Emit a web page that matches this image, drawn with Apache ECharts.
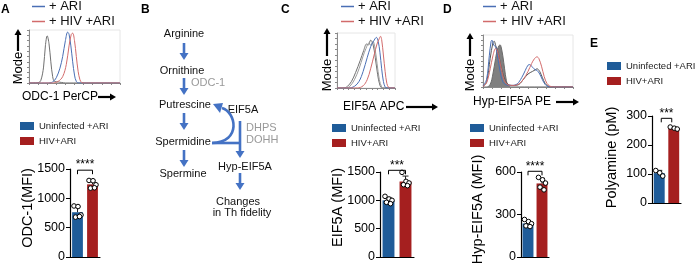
<!DOCTYPE html>
<html><head><meta charset="utf-8">
<script src="https://cdn.jsdelivr.net/npm/echarts@6/dist/echarts.min.js"></script>
<style>html,body{margin:0;padding:0;background:#fff}#c{width:695px;height:263px}</style>
</head><body><div id="c"></div><script>
// ---------------- DATA ----------------
const barCategories = ['Uninfected +ARI', 'HIV+ARI'];
const histNames = ['+ ARI', '+ HIV +ARI'];

const odcUninfected = [870, 860, 716, 680, 690];
const odcHiv = [1305, 1300, 1231, 1174, 1180];
const eif5aUninfected = [1071, 1024, 1000, 965, 941];
const eif5aHiv = [1494, 1335, 1306, 1276, 1259];
const hypUninfected = [265, 250, 235, 220, 215];
const hypHiv = [562, 545, 522, 493, 474];
const polyUninfected = [112, 104, 93];
const polyHiv = [262, 258, 255];

const odcTicks = [0, 500, 1000, 1500];
const eif5aTicks = [0, 500, 1000, 1500];
const hypTicks = [0, 300, 600];
const polyTicks = [0, 100, 200, 300];

// histogram traces, [fluorescence (relative), mode %]
const odcHistCtrl = [[0,0],[10,0.5],[13,5],[16,30],[18,70],[20,89],[22,74],[24,40],[26,12],[28,3],[32,2],[36,1],[40,0],[100,0]];
const odcHistAri = [[0,0],[20,0],[26,2],[30,10],[34,28],[37,50],[40,80],[42.5,96],[44,92],[46,70],[48,40],[50,15],[52,3],[55,0],[100,0]];
const odcHistHiv = [[0,0],[26,0],[32,3],[37,12],[41,35],[44,70],[46.5,92],[48,94],[50,80],[52,50],[54,22],[56,6],[58,1],[62,0],[100,0]];

const eifHistCtrl1 = [[0,0],[12,0],[18,3],[25,12],[32,28],[40,50],[46,68],[51,80],[54,78],[58,87],[62,80],[66,55],[70,25],[74,5],[78,0],[100,0]];
const eifHistCtrl2 = [[0,0],[15,0],[22,3],[30,15],[38,35],[45,58],[50,72],[55,82],[58,78],[62,85],[65,75],[69,45],[73,15],[77,2],[80,0],[100,0]];
const eifHistAri = [[0,0],[20,0],[30,3],[38,12],[45,30],[52,55],[58,75],[63,85],[68,92],[71,85],[74,65],[77,35],[80,12],[83,2],[86,0],[100,0]];
const eifHistHiv = [[0,0],[35,0],[45,4],[52,15],[58,35],[64,60],[69,80],[73,90],[75,94],[77,88],[80,60],[83,30],[86,8],[89,1],[92,0],[100,0]];

const hypHistIso = [[0,0],[4,0],[8,5],[11,25],[14,55],[16,72],[18,80],[19,81],[20,78],[22,60],[24,35],[26,12],[28,3],[31,0],[100,0]];
const hypHistCtrl = [[0,1],[4,10],[8,55],[11,85],[12.5,88],[14,80],[17,65],[20,40],[24,15],[28,5],[34,3],[40,5],[45,15],[50,25],[55,30],[58,33],[60,35],[63,30],[66,18],[69,7],[72,2],[76,0],[100,0]];
const hypHistAri = [[0,2],[4,15],[7,60],[9,88],[10,90],[12,80],[14,78],[16,60],[19,30],[22,10],[26,4],[32,3],[38,6],[43,18],[47,32],[50,42],[52,43],[55,38],[58,33],[60,32],[63,25],[66,14],[69,5],[72,1],[76,0],[100,0]];
const hypHistHiv = [[0,1],[4,8],[8,35],[11,60],[14,74],[16,70],[18,55],[21,30],[24,12],[28,4],[34,3],[40,6],[45,15],[50,30],[54,45],[57,54],[60,58],[62,55],[65,40],[68,20],[71,7],[74,2],[78,0],[100,0]];

// ---------------- STYLE / LAYOUT ----------------
const FONT = '"Liberation Sans", Arial, sans-serif';
const BLUE = '#1f5c99', RED = '#a51f1f';
const H_BLUE = '#4a6fb5', H_RED = '#d26b6b', H_GRAY = '#707070', H_GRAY2 = '#9a9a9a';
const ARROW_BLUE = '#4472c4';
const JITTER = [-3.5, 0.5, 3.5, -2, 2];

const grids = [], xAxes = [], yAxes = [], series = [], legends = [], graphics = [], barPanels = [];
const mean = a => a.reduce((s, v) => s + v, 0) / a.length;
const sd = a => { const m = mean(a); return Math.sqrt(a.reduce((s, v) => s + (v - m) * (v - m), 0) / (a.length - 1)); };

function addHist(cfg) {
  const gi = grids.length;
  grids.push({left: cfg.left, top: cfg.top, width: cfg.width, height: cfg.height, show: true, borderColor: '#e6e6e6', borderWidth: 1, outerBoundsMode: 'none', containLabel: false});
  const ax = {axisLine: {show: true, lineStyle: {color: '#8a8a8a', width: 1}}, axisTick: {show: true, length: 2, lineStyle: {color: '#8a8a8a'}}, axisLabel: {show: false}, splitLine: {show: false}};
  xAxes.push(Object.assign({type: 'value', gridIndex: gi, min: 0, max: 100, interval: 10}, ax));
  yAxes.push(Object.assign({type: 'value', gridIndex: gi, min: 0, max: 100, interval: 10}, ax));
  cfg.curves.forEach(c => {
    series.push({type: 'line', name: c.name, xAxisIndex: gi, yAxisIndex: gi, data: c.data, smooth: 0.35,
      symbol: 'none', showSymbol: false, silent: true, z: c.z || 2,
      lineStyle: {color: c.color, width: 1}, itemStyle: {color: c.color},
      areaStyle: c.fill ? {color: c.fill, opacity: 1} : undefined});
  });
  legends.push({left: cfg.legLeft, top: cfg.legTop, orient: 'vertical', data: histNames, icon: 'rect', itemWidth: 13, itemHeight: 1.5, itemGap: 2, padding: 0,
    selectedMode: false, textStyle: {fontSize: 13, fontFamily: FONT, color: '#111', padding: [0, 0, 0, -1]}});
}

function addBar(cfg) {
  const gi = grids.length;
  cfg.gi = gi; barPanels.push(cfg);
  grids.push({left: cfg.left, top: cfg.top, width: cfg.width, height: cfg.height, outerBoundsMode: 'none', containLabel: false});
  xAxes.push({type: 'category', gridIndex: gi, data: barCategories,
    axisLine: {lineStyle: {color: '#000', width: 1.2}}, axisTick: {alignWithLabel: true, length: 4, lineStyle: {color: '#000'}}, axisLabel: {show: false}});
  yAxes.push({type: 'value', gridIndex: gi, min: cfg.ticks[0], max: cfg.ticks[cfg.ticks.length - 1], interval: cfg.ticks[1] - cfg.ticks[0],
    axisLine: {show: true, lineStyle: {color: '#000', width: 1.2}}, axisTick: {show: true, length: 4, lineStyle: {color: '#000'}},
    axisLabel: {show: false}, splitLine: {show: false}});
  const groups = [cfg.u, cfg.h];
  series.push({type: 'bar', name: barCategories[0], xAxisIndex: gi, yAxisIndex: gi, data: [mean(cfg.u), '-'], barWidth: cfg.barWidth, barGap: '-100%', itemStyle: {color: BLUE}, silent: true});
  series.push({type: 'bar', name: barCategories[1], xAxisIndex: gi, yAxisIndex: gi, data: ['-', mean(cfg.h)], barWidth: cfg.barWidth, barGap: '-100%', itemStyle: {color: RED}, silent: true});
  // error bars
  series.push({type: 'custom', xAxisIndex: gi, yAxisIndex: gi, z: 3, silent: true, clip: false,
    data: groups.map((g, i) => [i, mean(g), sd(g)]),
    renderItem: (p, api) => {
      const x = api.value(0), m = api.value(1), s = api.value(2);
      const a = api.coord([x, m]), b = api.coord([x, m + s]);
      return {type: 'group', children: [
        {type: 'line', shape: {x1: a[0], y1: a[1], x2: b[0], y2: b[1]}, style: {stroke: '#222', lineWidth: 1}},
        {type: 'line', shape: {x1: b[0] - 3, y1: b[1], x2: b[0] + 3, y2: b[1]}, style: {stroke: '#222', lineWidth: 1}}]};
    }});
  // individual points
  const pts = [];
  groups.forEach((g, i) => g.forEach((v, k) => pts.push([i, v, k])));
  series.push({type: 'custom', xAxisIndex: gi, yAxisIndex: gi, z: 4, silent: true, clip: false, data: pts,
    renderItem: (p, api) => {
      const c = api.coord([api.value(0), api.value(1)]);
      return {type: 'circle', shape: {cx: c[0] + JITTER[api.value(2) % JITTER.length], cy: c[1], r: 2.3}, style: {fill: '#fff', stroke: '#000', lineWidth: 1}};
    }});
  // significance bracket
  series.push({type: 'custom', xAxisIndex: gi, yAxisIndex: gi, z: 4, silent: true, clip: false, data: [[0, cfg.bracket]],
    renderItem: (p, api) => {
      const v = api.value(1);
      const a = api.coord([0, v]), b = api.coord([1, v]);
      const x1 = a[0] + cfg.inset, x2 = b[0] - cfg.inset;
      return {type: 'group', children: [
        {type: 'polyline', shape: {points: [[x1, a[1] + 4], [x1, a[1]], [x2, a[1]], [x2, a[1] + 4]]}, style: {stroke: '#000', lineWidth: 1, fill: null}},
        {type: 'text', x: (x1 + x2) / 2, y: a[1] + 1, style: {text: cfg.stars, fontSize: 12, fontFamily: FONT, fill: '#000', align: 'center', verticalAlign: 'bottom'}}]};
    }});
  legends.push({left: cfg.legLeft, top: cfg.legTop, orient: 'vertical', data: barCategories, icon: 'rect', itemWidth: 14, itemHeight: 8, itemGap: cfg.legGap, padding: 0,
    selectedMode: false, textStyle: {fontSize: 9.5, fontFamily: FONT, color: '#222'}});
}

// -------- histograms --------
addHist({left: 29, top: 30, width: 91, height: 53, legLeft: 32, legTop: 0, curves: [
  {name: 'ctrl', data: odcHistCtrl, color: H_GRAY},
  {name: histNames[0], data: odcHistAri, color: H_BLUE},
  {name: histNames[1], data: odcHistHiv, color: H_RED}]});
addHist({left: 337, top: 33, width: 58, height: 55, legLeft: 341, legTop: 0, curves: [
  {name: 'ctrl1', data: eifHistCtrl1, color: H_GRAY},
  {name: 'ctrl2', data: eifHistCtrl2, color: H_GRAY2},
  {name: histNames[0], data: eifHistAri, color: H_BLUE},
  {name: histNames[1], data: eifHistHiv, color: H_RED}]});
addHist({left: 483, top: 35, width: 90, height: 52, legLeft: 483, legTop: 0, curves: [
  {name: 'iso', data: hypHistIso, color: '#6a6a6a', fill: '#808080', z: 1},
  {name: 'ctrl', data: hypHistCtrl, color: '#555'},
  {name: histNames[0], data: hypHistAri, color: H_BLUE},
  {name: histNames[1], data: hypHistHiv, color: H_RED}]});

// -------- bar charts --------
addBar({left: 70, top: 169, width: 30, height: 88, ticks: odcTicks, u: odcUninfected, h: odcHiv, name: 'ODC-1(MFI)', nameGap: 42, nameDy: -5,
  barWidth: '72%', bracket: 1480, inset: 0, stars: '****', legLeft: 20, legTop: 121, legGap: 5});
addBar({left: 380, top: 172, width: 34, height: 85, ticks: eif5aTicks, u: eif5aUninfected, h: eif5aHiv, name: 'EIF5A (MFI)', nameGap: 42, nameDy: -7,
  barWidth: '70%', bracket: 1530, inset: 0, stars: '***', legLeft: 332, legTop: 123, legGap: 5});
addBar({left: 521, top: 172, width: 28, height: 85, ticks: hypTicks, u: hypUninfected, h: hypHiv, name: 'Hyp-EIF5A (MFI)', nameGap: 43, nameDy: -5,
  barWidth: '78%', bracket: 605, inset: 0, stars: '****', legLeft: 470, legTop: 123, legGap: 5});
addBar({left: 652, top: 116, width: 29, height: 87, ticks: polyTicks, u: polyUninfected, h: polyHiv, name: 'Polyamine (pM)', nameGap: 40, nameDy: -2,
  barWidth: '75%', bracket: 292, inset: 2, stars: '***', legLeft: 607, legTop: 61, legGap: 5});

// -------- graphics (labels, arrows, pathway) --------
function arrow(x1, y1, x2, y2, color, w, hl, hw) {
  const dx = x2 - x1, dy = y2 - y1, L = Math.hypot(dx, dy), ux = dx / L, uy = dy / L;
  const bx = x2 - ux * hl, by = y2 - uy * hl;
  return [{type: 'line', shape: {x1, y1, x2: bx + ux, y2: by + uy}, style: {stroke: color, lineWidth: w}},
    {type: 'polygon', shape: {points: [[x2, y2], [bx - uy * hw, by + ux * hw], [bx + uy * hw, by - ux * hw]]}, style: {fill: color}}];
}
function txt(t, x, y, o) {
  o = o || {};
  const el = {type: 'text', x, y, rotation: o.rot || 0, style: {text: t, fontSize: o.size || 11, fontFamily: FONT, fontWeight: o.bold ? 'bold' : 'normal',
    fill: o.color || '#111', align: o.align || 'center', verticalAlign: o.va || 'middle'}};
  if (o.top) { el.z = 100; el.zlevel = 1; }
  return el;
}
// panel letters
[['A', 1, 4], ['B', 141, 4], ['C', 281, 4], ['D', 443, 4], ['E', 590, 38]].forEach(l => graphics.push(txt(l[0], l[1], l[2], {bold: true, size: 12, align: 'left', va: 'top', color: '#000'})));
// histogram axis titles
graphics.push(txt('Mode', 18, 68, {rot: Math.PI / 2, size: 13, color: '#000'}), ...arrow(18, 51, 18, 29, '#000', 2.2, 6, 3.5));
graphics.push(txt('ODC-1 PerCP', 22, 97, {size: 12, align: 'left', color: '#000'}), ...arrow(98, 97, 116, 97, '#000', 2.2, 6, 3.5));
graphics.push(txt('Mode', 327, 75, {rot: Math.PI / 2, size: 13, color: '#000'}), ...arrow(327, 56, 327, 28, '#000', 2.2, 6, 3.5));
graphics.push(txt('EIF5A APC', 343, 107, {size: 12, align: 'left', color: '#000'}), ...arrow(406, 107, 438, 107, '#000', 2.2, 6, 3.5));
graphics.push(txt('Mode', 470, 75, {rot: Math.PI / 2, size: 13, color: '#000'}), ...arrow(470, 56, 470, 33, '#000', 2.2, 6, 3.5));
graphics.push(txt('Hyp-EIF5A PE', 473, 102, {size: 12, align: 'left', color: '#000'}), ...arrow(556, 102, 579, 102, '#000', 2.2, 6, 3.5));
// pathway diagram B
const G = '#999';
graphics.push(txt('Arginine', 184, 34), txt('Ornithine', 182, 71), txt('ODC-1', 191, 83, {align: 'left', color: G}),
  txt('Putrescine', 185, 105), txt('Spermidine', 183, 142), txt('Spermine', 183, 174),
  txt('EIF5A', 243, 110), txt('DHPS', 246, 128, {align: 'left', color: G}), txt('DOHH', 246, 140, {align: 'left', color: G}),
  txt('Hyp-EIF5A', 245, 167), txt('Changes', 238, 202), txt('in Th fidelity', 242, 213));
[[43, 60], [78, 95], [113, 130], [150, 167]].forEach(s => graphics.push(...arrow(184, s[0], 184, s[1], ARROW_BLUE, 2.6, 7, 4.5)));
graphics.push(...arrow(240, 173, 240, 190, ARROW_BLUE, 2.6, 7, 4.5));
graphics.push(...arrow(240, 121, 240, 158, ARROW_BLUE, 2.6, 7, 4.5));
graphics.push({type: 'line', shape: {x1: 212, y1: 143, x2: 241, y2: 143}, style: {stroke: ARROW_BLUE, lineWidth: 2.6}});
graphics.push({type: 'bezierCurve', shape: {x1: 212, y1: 143, cpx1: 242, cpy1: 142, cpx2: 236, cpy2: 112, x2: 222, y2: 108}, style: {stroke: ARROW_BLUE, lineWidth: 2.6, fill: null}});
graphics.push({type: 'polygon', shape: {points: [[213, 104], [223, 103], [220, 113]]}, style: {fill: ARROW_BLUE}});

const chart = echarts.init(document.getElementById('c'), null, {renderer: 'canvas'});
chart.setOption({
  animation: false,
  textStyle: {fontFamily: FONT},
  grid: grids, xAxis: xAxes, yAxis: yAxes, series, legend: legends
});

// y tick labels and axis titles of the bar panels, positioned through each grid's y scale
barPanels.forEach(cfg => {
  cfg.ticks.forEach(t => {
    const p = chart.convertToPixel({gridIndex: cfg.gi}, [0, t]);
    graphics.push(txt(String(t), cfg.left - 5, p[1], {size: 12.5, align: 'right', color: '#000', top: true}));
  });
  const top = chart.convertToPixel({gridIndex: cfg.gi}, [0, cfg.ticks[cfg.ticks.length - 1]])[1];
  const bottom = chart.convertToPixel({gridIndex: cfg.gi}, [0, cfg.ticks[0]])[1];
  graphics.push(txt(cfg.name, cfg.left - cfg.nameGap, (top + bottom) / 2 + cfg.nameDy, {rot: Math.PI / 2, size: 14.5, color: '#000', top: true}));
});
chart.setOption({graphic: graphics});
</script></body></html>
